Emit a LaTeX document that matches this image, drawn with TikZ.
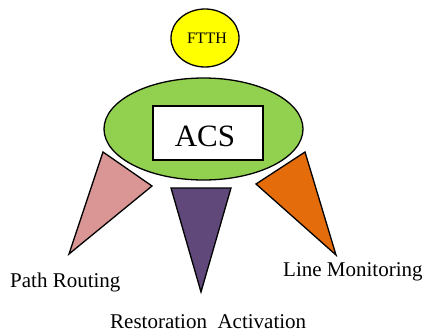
\documentclass[tikz,border=0pt]{standalone}
\usepackage{fontspec}
\setmainfont{Liberation Serif}
\definecolor{ftthyellow}{RGB}{255,255,0}
\definecolor{acsgreen}{RGB}{146,208,80}
\definecolor{pinkfill}{RGB}{217,150,148}
\definecolor{purplefill}{RGB}{96,73,122}
\definecolor{orangefill}{RGB}{228,108,10}
\usetikzlibrary{shapes.geometric}
\begin{document}
\begin{tikzpicture}[x=1pt,y=-1pt,
  shapeline/.style={draw=black,line width=1.3pt},
  lbl/.style={inner sep=0pt,font=\fontsize{21}{24}\selectfont}]
\useasboundingbox (0,0) rectangle (425,335);
% FTTH
\node[ellipse,shapeline,fill=ftthyellow,minimum width=68pt,minimum height=58pt,inner sep=0pt] (ftth) at (205,38) {};
\node[anchor=base,inner sep=0pt,font=\fontsize{16}{18}\selectfont] (ftthtext) at (207,43) {FTTH};
% ACS ellipse
\node[ellipse,shapeline,fill=acsgreen,minimum width=199pt,minimum height=102pt,inner sep=0pt] (acsell) at (203.5,129) {};
\node[rectangle,shapeline,fill=white,minimum width=110pt,minimum height=54pt,inner sep=0pt] (acsbox) at (208,133) {};
\node[anchor=base,inner sep=0pt,font=\fontsize{31}{34}\selectfont] (acstext) at (205,146) {ACS};
% triangles
\draw[shapeline,fill=pinkfill] (103,152) -- (152,186) -- (69,254) -- cycle;
\draw[shapeline,fill=purplefill] (171,188) -- (231,188) -- (201,292) -- cycle;
\draw[shapeline,fill=orangefill] (305,152) -- (256,184) -- (336,255) -- cycle;
% labels
\node[lbl,anchor=base west] (path) at (10,287) {Path Routing};
\node[lbl,anchor=base west] (line) at (283,276) {Line Monitoring};
\node[lbl,anchor=base west] (rest) at (110,328) {Restoration\ \ Activation};
\end{tikzpicture}
\end{document}
